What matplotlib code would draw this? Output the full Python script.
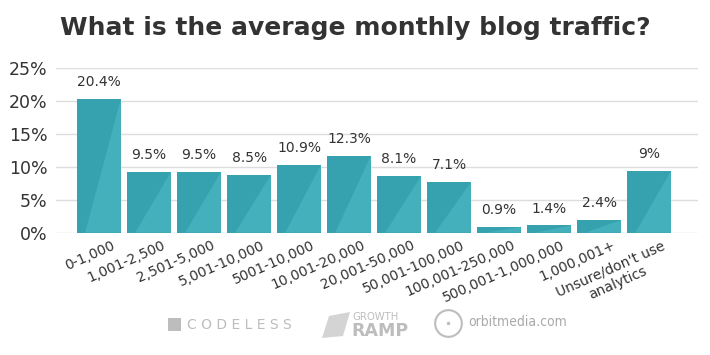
import matplotlib
matplotlib.use('Agg')
import matplotlib.pyplot as plt
from matplotlib.patches import Rectangle, Polygon, Circle
from matplotlib.transforms import ScaledTranslation
import numpy as np

# data (bar heights as drawn, labels as printed)
categories = ['0-1,000', '1,001-2,500', '2,501-5,000', '5,001-10,000', '5001-10,000',
              '10,001-20,000', '20,001-50,000', '50,001-100,000', '100,001-250,000',
              '500,001-1,000,000', '1,000,001+', "Unsure/don't use\nanalytics"]
heights = [20.3, 9.2, 9.2, 8.8, 10.3, 11.7, 8.6, 7.7, 0.9, 1.1, 1.9, 9.4]
labels = ['20.4%', '9.5%', '9.5%', '8.5%', '10.9%', '12.3%', '8.1%', '7.1%',
          '0.9%', '1.4%', '2.4%', '9%']
yticks = [0, 5, 10, 15, 20, 25]

dark = '#36a2af'
light = '#43b0bc'
txt = '#333333'

fig = plt.figure(figsize=(7.1, 3.55), dpi=100)
ax = fig.add_axes([0.0789, 0.3445, 0.9038, 0.4631])

x = np.arange(len(categories))
w = 0.87
bars = ax.bar(x, heights, width=w, color=dark, zorder=2)
# lighter diagonal facet on each bar
for b in bars:
    x0, x1, h = b.get_x(), b.get_x() + b.get_width(), b.get_height()
    ax.add_patch(Polygon([(x0 + 0.18 * w, 0), (x1, h), (x1, 0)], closed=True,
                         facecolor=light, edgecolor='none', zorder=3))

for xi, h, lab in zip(x, heights, labels):
    ax.text(xi, h + 1.5, lab, ha='center', va='bottom', fontsize=10, color=txt)

ax.set_xlim(-0.86, 11.97)
ax.set_ylim(0, 25)
ax.set_yticks(yticks)
ax.set_yticklabels([f'{v}%' for v in yticks], fontsize=12.5, color=txt)
ax.yaxis.grid(True, color='#dddddd', linewidth=1, zorder=0)
ax.tick_params(axis='y', length=0, pad=6)
ax.tick_params(axis='x', length=0, pad=4)
for sp in ax.spines.values():
    sp.set_visible(False)

ax.set_xticks(x)
ax.set_xticklabels(categories, rotation=24, ha='right', rotation_mode='anchor',
                   fontsize=10, color=txt, multialignment='center')
off = ScaledTranslation(9 / 72, 0, fig.dpi_scale_trans)
for t in ax.get_xticklabels():
    t.set_transform(t.get_transform() + off)

fig.text(0.5, 0.92, 'What is the average monthly blog traffic?', ha='center', va='center',
         fontsize=18, fontweight='bold', color=txt)

# sponsor logos along the bottom
logo = '#bdbdbd'
fig.patches.append(Rectangle((168 / 710, 1 - 331 / 355), 13 / 710, 13 / 355,
                             transform=fig.transFigure, facecolor=logo, edgecolor='none'))
fig.text(187 / 710, 1 - 325 / 355, 'C O D E L E S S', ha='left', va='center',
         fontsize=10, color=logo)
fig.patches.append(Polygon([(322 / 710, 1 - 338 / 355), (329 / 710, 1 - 316 / 355),
                            (350 / 710, 1 - 312 / 355), (343 / 710, 1 - 336 / 355)],
                           closed=True, transform=fig.transFigure, facecolor='#d4d4d4',
                           edgecolor='none'))
fig.text(352 / 710, 1 - 317 / 355, 'GROWTH', ha='left', va='center', fontsize=8,
         color=logo, fontweight='light', fontstretch='condensed')
fig.text(351 / 710, 1 - 331 / 355, 'RAMP', ha='left', va='center', fontsize=12.5,
         color=logo, fontweight='bold')
ax_c = fig.add_axes([434 / 710, 1 - 338 / 355, 29 / 710, 29 / 355])
ax_c.set_xlim(-1, 1)
ax_c.set_ylim(-1, 1)
ax_c.set_aspect('equal')
ax_c.axis('off')
ax_c.add_patch(Circle((0, 0), 0.92, facecolor='none', edgecolor=logo, linewidth=1.5))
ax_c.add_patch(Circle((0, 0), 0.12, facecolor=logo, edgecolor='none'))
fig.text(468 / 710, 1 - 322 / 355, 'orbitmedia.com', ha='left', va='center',
         fontsize=10, color='#aaaaaa', fontstretch='condensed')

fig.savefig('out.png', dpi=100, facecolor='white')
